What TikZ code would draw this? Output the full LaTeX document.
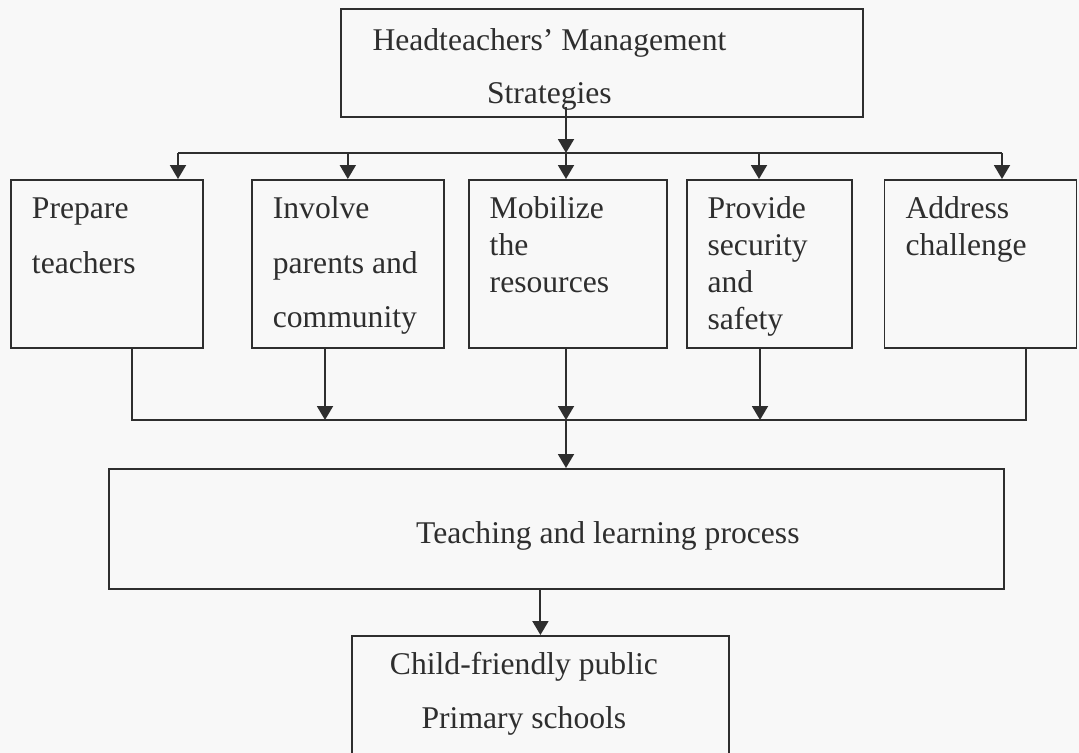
\documentclass[tikz,border=0pt]{standalone}
\usepackage{fontspec}
\setmainfont{Liberation Serif}
\usetikzlibrary{positioning, arrows.meta}
\definecolor{ink}{HTML}{2E2E2E}
\definecolor{paper}{HTML}{F8F8F8}

\begin{document}
\begin{tikzpicture}[x=0.02cm, y=-0.02cm, line width=1.1pt, draw=ink, text=ink,
    arr/.style={-{Triangle[width=0.32cm,length=0.28cm]}},
    box/.style={draw, inner sep=0pt},
    stratbox/.style={box, anchor=north west, text width=#1, align=flush left,
      inner xsep=0.42cm, text height=0.78cm, text depth=2.58cm},
    dbl/.style={font=\fontsize{18}{31}\selectfont},
    sgl/.style={font=\fontsize{18}{21}\selectfont}]
  \fill[paper] (0,0) rectangle (1079,753);
  \useasboundingbox (0,0) rectangle (1079,753);
  % Nodes
  \node[box, anchor=north west, minimum width=10.44cm, text height=0.84cm, text depth=1.32cm,
        font=\fontsize{18}{30}\selectfont] (head) at (340,8)
    {\begin{tabular}[t]{@{}c@{\hspace{2.1cm}}}Headteachers' Management\\ Strategies\end{tabular}};
  \node[stratbox=3.0cm, dbl] (prep) at (10,179) {Prepare\\ teachers};
  \node[stratbox=3.0cm, dbl, right=0.94cm of prep, anchor=west] (invo) {Involve\\ parents and\\ community};
  \node[stratbox=3.12cm, sgl, right=0.46cm of invo, anchor=west] (mob) {Mobilize\\ the\\ resources};
  \node[stratbox=2.46cm, sgl, right=0.36cm of mob, anchor=west] (prov) {Provide\\ security\\ and\\ safety};
  \node[stratbox=3.0cm, sgl, right=0.62cm of prov, anchor=west] (addr) {Address\\ challenge};
  \node[box, anchor=north west, minimum width=17.9cm, text height=1.5cm, text depth=0.9cm,
        font=\fontsize{18}{21}\selectfont] (teach) at (108,468)
    {\hspace*{2.06cm}Teaching and learning process};
  \node[box, anchor=north west, minimum width=7.54cm, text height=0.78cm, text depth=2.52cm,
        font=\fontsize{18}{30.6}\selectfont] (child) at (351,635)
    {\begin{tabular}[t]{@{}c@{\hspace{0.66cm}}}Child-friendly public\\ Primary schools\end{tabular}};
  % Bus points
  \coordinate (split) at (566,153);
  \coordinate (busL) at (178,153);
  \coordinate (busR) at (1002,153);
  \coordinate (dprov) at (759,153);
  \coordinate (join) at (566,420);
  \coordinate (joinL) at (132,420);
  \coordinate (joinR) at (1026,420);
  \coordinate (jinvo) at (325,420);
  \coordinate (jprov) at (760,420);
  % From the strategies to the five boxes
  \draw[arr] ([yshift=0.22cm]head.south -| split) -- (split);
  \draw (busL) -- (busR);
  \draw[arr] (busL) -- (busL |- prep.north);
  \draw[arr] (invo.north |- busL) -- (invo.north);
  \draw[arr] (split) -- (split |- mob.north);
  \draw[arr] (dprov) -- (dprov |- prov.north);
  \draw[arr] (busR) -- (busR |- addr.north);
  % Into the teaching and learning process
  \draw (prep.south -| joinL) -- (joinL) -- (joinR) -- (addr.south -| joinR);
  \draw[arr] (invo.south -| jinvo) -- (jinvo);
  \draw[arr] (mob.south -| join) -- (join);
  \draw[arr] (prov.south -| jprov) -- (jprov);
  \draw[arr] (join) -- (join |- teach.north);
  % Outcome
  \draw[arr] (teach.south -| child.north) -- (child.north);
\end{tikzpicture}
\end{document}
